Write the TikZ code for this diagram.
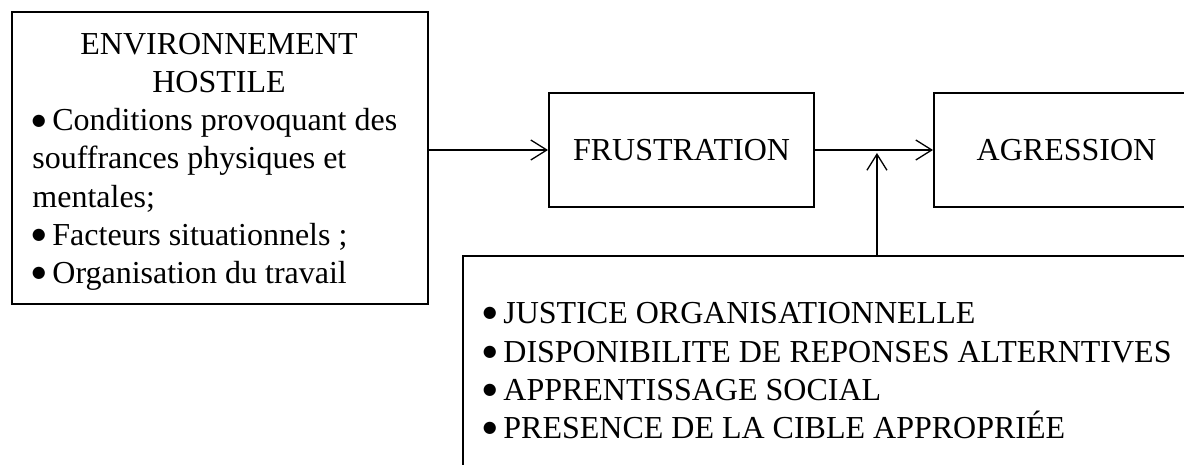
\documentclass[tikz,border=0pt]{standalone}
\usepackage{fontspec}
\setmainfont{Liberation Serif}
\newfontfamily\bulfont{DejaVu Sans}
\usetikzlibrary{arrows.meta,calc}
\newcommand{\bul}{\makebox[10pt][l]{\hspace*{-0.3pt}\raisebox{2.6pt}{\bulfont\fontsize{8}{8}\selectfont ●}}}
\tikzset{
  boxnode/.style={draw, line width=1pt, rectangle, inner sep=0pt, anchor=north west},
  txt/.style={inner sep=0pt, font=\fontsize{16}{19}\selectfont},
  conn/.style={line width=0.65pt, -{Straight Barb[length=8pt,width=10pt,line width=0.65pt]}}
}
\begin{document}
\begin{tikzpicture}[x=0.5pt,y=-0.5pt]
\path[use as bounding box, clip] (0,0) rectangle (1184,465);
% boxes
\node[boxnode, minimum width=208pt, minimum height=146pt] (env) at (11,11) {};
\node[boxnode, minimum width=132.5pt, minimum height=57pt] (frus) at (548,92) {};
\node[boxnode, minimum width=132.5pt, minimum height=57pt] (agr) at (933,92) {};
\node[boxnode, minimum width=400pt, minimum height=150pt] (cond) at (462,255) {};
% box texts
\node[txt, anchor=base] (t1) at (219,55) {ENVIRONNEMENT};
\node[txt, anchor=base] (t2) at (219,93) {HOSTILE};
\node[txt, anchor=base west] (t3) at (32,131) {\bul Conditions provoquant des};
\node[txt, anchor=base west] (t4) at (32,169) {souffrances physiques et};
\node[txt, anchor=base west] (t5) at (32,207) {mentales;};
\node[txt, anchor=base west] (t6) at (32,245) {\bul Facteurs situationnels ;};
\node[txt, anchor=base west] (t7) at (32,283) {\bul Organisation du travail};
\node[txt] (ft) at (frus.center) {FRUSTRATION};
\node[txt] (at) at ($(frus.center)+(385,0)$) {AGRESSION};
\node[txt, anchor=base west] (c1) at (483,323) {\bul JUSTICE ORGANISATIONNELLE};
\node[txt, anchor=base west] (c2) at (483,362) {\bul DISPONIBILITE DE REPONSES ALTERNTIVES};
\node[txt, anchor=base west] (c3) at (483,400) {\bul APPRENTISSAGE SOCIAL};
\node[txt, anchor=base west] (c4) at (483,438) {\bul PRESENCE DE LA CIBLE APPROPRIÉE};
% connectors
\draw[conn] (env.east |- frus.west) -- (frus.west);
\draw[conn] (frus.east) -- (agr.west);
\coordinate (j) at ($(frus.east)!0.525!(agr.west)$);
\draw[conn, shorten >=1.5pt] (j |- cond.north) -- (j);
\end{tikzpicture}
\end{document}
